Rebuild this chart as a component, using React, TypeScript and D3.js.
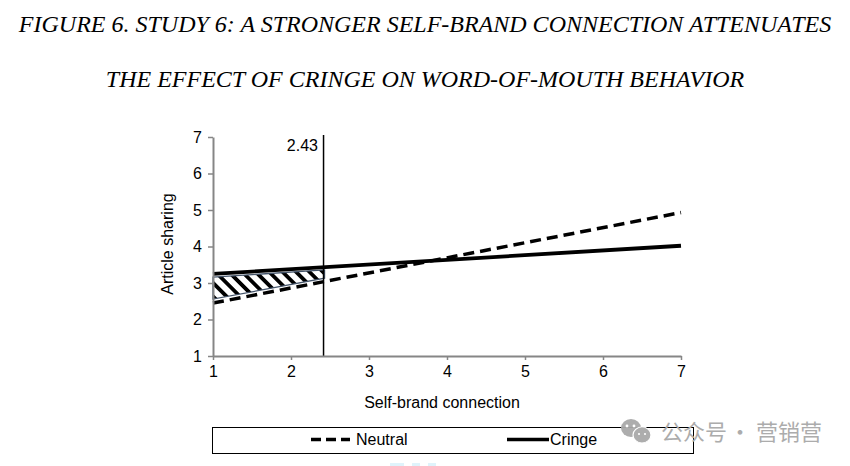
import React, { useEffect, useRef } from "react";
import * as d3 from "d3";

const titleLines = [
  "FIGURE 6. STUDY 6: A STRONGER SELF-BRAND CONNECTION ATTENUATES",
  "THE EFFECT OF CRINGE ON WORD-OF-MOUTH BEHAVIOR",
];
const xTicks = [1, 2, 3, 4, 5, 6, 7];
const yTicks = [1, 2, 3, 4, 5, 6, 7];
const endpoints = [1, 7];
const neutralValues = [2.45, 4.93];
const cringeValues = [3.25, 4.02];
const jnPoint = 2.43;
const hatchTop: [number, number][] = [[1, 3.16], [2.43, 3.36]];
const hatchBottom: [number, number][] = [[1, 2.56], [2.43, 3.13]];

const width = 850;
const height = 466;
const sans = "'Liberation Sans', Arial, sans-serif";

const x = d3.scaleLinear().domain([1, 7]).range([213, 681]);
const y = d3.scaleLinear().domain([1, 7]).range([356, 137]);

export default function App() {
  const svgRef = useRef<SVGSVGElement>(null);

  useEffect(() => {
    const svg = d3.select(svgRef.current);
    svg.selectAll(".axis").remove();

    const gx = svg
      .append("g")
      .attr("class", "axis")
      .attr("transform", `translate(0,${y(1)})`)
      .call(d3.axisBottom(x).tickValues(xTicks).tickFormat(d3.format("d")).tickSize(4).tickSizeOuter(0));
    const gy = svg
      .append("g")
      .attr("class", "axis")
      .attr("transform", `translate(${x(1)},0)`)
      .call(d3.axisLeft(y).tickValues(yTicks).tickFormat(d3.format("d")).tickSize(5).tickSizeOuter(0));

    [gx, gy].forEach((g) => {
      g.select(".domain").attr("stroke", "#868686").attr("stroke-width", 2);
      g.selectAll(".tick line").attr("stroke", "#868686").attr("stroke-width", 1.5);
      g.selectAll(".tick text")
        .attr("fill", "#000")
        .style("font-family", sans)
        .style("font-size", "16px");
    });
    gx.selectAll(".tick text").attr("dy", "0.9em");
    gy.selectAll(".tick text").attr("x", -11);
  }, []);

  const neutralLine = d3.line<number>().x((d) => x(d)).y((_, i) => y(neutralValues[i]));
  const cringeLine = d3.line<number>().x((d) => x(d)).y((_, i) => y(cringeValues[i]));
  const hatchArea = d3
    .area<[number, number]>()
    .x((d) => x(d[0]))
    .y1((d) => y(d[1]))
    .y0((_, i) => y(hatchBottom[i][1]));

  return (
    <svg
      ref={svgRef}
      width={width}
      height={height}
      style={{ position: "absolute", left: 0, top: 0, background: "#fff" }}
    >
      <defs>
        <pattern id="hatch" width="9.5" height="9.5" patternUnits="userSpaceOnUse" patternTransform="rotate(45)">
          <rect width="9.5" height="9.5" fill="#fff" />
          <rect width="9.5" height="3.8" fill="#000" />
        </pattern>
      </defs>

      {titleLines.map((t, i) => (
        <text
          key={t}
          x={425}
          y={32 + i * 55}
          textAnchor="middle"
          fontFamily="'Liberation Serif', 'Times New Roman', serif"
          fontStyle="italic"
          fontSize={24}
          fill="#000"
        >
          {t}
        </text>
      ))}

      <path
        d={hatchArea(hatchTop) + "Z"}
        fill="url(#hatch)"
        stroke="#44546a"
        strokeWidth={1.3}
      />

      <line x1={x(jnPoint) - 1} x2={x(jnPoint) - 1} y1={135} y2={y(1)} stroke="#000" strokeWidth={1.5} />
      <text x={318} y={151} textAnchor="end" fontFamily={sans} fontSize={16} fill="#000">
        2.43
      </text>

      <path d={neutralLine(endpoints) ?? ""} fill="none" stroke="#000" strokeWidth={3.5} strokeDasharray="11 6" />
      <path d={cringeLine(endpoints) ?? ""} fill="none" stroke="#000" strokeWidth={3.8} />

      <text
        transform="translate(173,244) rotate(-90)"
        textAnchor="middle"
        fontFamily={sans}
        fontSize={16}
        fill="#000"
      >
        Article sharing
      </text>
      <text x={442} y={408} textAnchor="middle" fontFamily={sans} fontSize={16} fill="#000">
        Self-brand connection
      </text>

      <rect x={212.5} y={427.5} width={481} height={26} fill="#fff" stroke="#000" strokeWidth={1} />
      <line x1={311} x2={350} y1={439.5} y2={439.5} stroke="#000" strokeWidth={3.5} strokeDasharray="10 5" />
      <text x={356} y={445} fontFamily={sans} fontSize={16} fill="#000">Neutral</text>
      <line x1={507} x2={549} y1={439.5} y2={439.5} stroke="#000" strokeWidth={3.5} />
      <text x={550} y={445} fontFamily={sans} fontSize={16} fill="#000">Cringe</text>

      <g fill="#a9a9a9" opacity={0.95}>
        <ellipse cx={631} cy={428} rx={10} ry={9} />
        <ellipse cx={642} cy={435} rx={9} ry={8} stroke="#fff" strokeWidth={1.2} />
        <circle cx={627} cy={426} r={1.4} fill="#fff" />
        <circle cx={634} cy={426} r={1.4} fill="#fff" />
        <circle cx={639} cy={434} r={1.1} fill="#fff" />
        <circle cx={645} cy={434} r={1.1} fill="#fff" />
      </g>
      <text y={440} fontFamily="'Noto Sans CJK SC', sans-serif" fontSize={22} fill="#acacac">
        <tspan x={661}>公众号</tspan>
        <tspan x={729}>·</tspan>
        <tspan x={756}>营销营</tspan>
      </text>

      <g fill="#dff3fb">
        <rect x={390} y={463} width={14} height={3} />
        <rect x={412} y={463} width={8} height={3} />
        <rect x={428} y={463} width={8} height={3} />
      </g>
    </svg>
  );
}
